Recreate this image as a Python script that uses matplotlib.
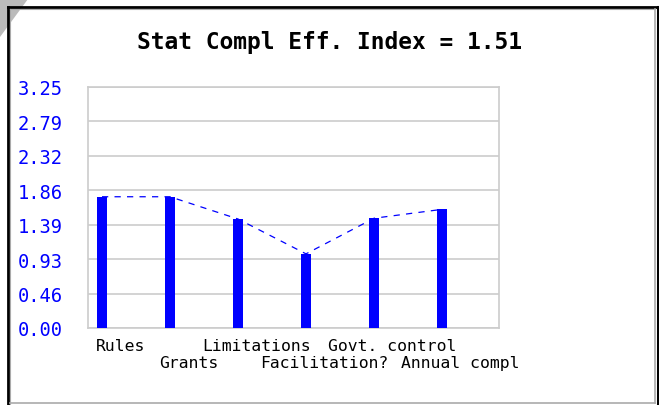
import numpy as np
import matplotlib
matplotlib.use("Agg")
import matplotlib.pyplot as plt
from matplotlib.lines import Line2D
from matplotlib.patches import Polygon

# data
categories = ["Rules", "Grants", "Limitations", "Facilitation?", "Govt. control", "Annual compl"]
values = [1.77, 1.77, 1.47, 1.00, 1.48, 1.60]
ymax = 3.25
title = "Stat Compl Eff. Index = 1.51"

W, H = 659, 406
BLUE = "#0000ff"
GRID = "#cccccc"


def fx(px):
    return px / W


def fy(py):
    return 1 - py / H


def main():
    fig = plt.figure(figsize=(W / 100, H / 100), dpi=100)
    fig.patch.set_facecolor("white")

    # folded corner (under the frame lines)
    fig.add_artist(Polygon([[0, 1], [fx(28), 1], [0, fy(38)]], closed=True,
                           facecolor="#bbbbbb", edgecolor="none",
                           transform=fig.transFigure, zorder=1))
    # frame around the whole panel
    for (x0, y0, x1, y1, c, lw) in [
        (8, 8, 8, H, "black", 2.0),
        (8, 8, 658, 8, "black", 2.0),
        (657.5, 8, 657.5, H, "black", 2.2),
        (10, 10, 10, H, "#aaaaaa", 0.8),
        (10, 10, 655, 10, "#aaaaaa", 0.8),
        (655, 10, 655, 404, "#aaaaaa", 1.2),
        (10, 404, 655, 404, "#aaaaaa", 1.2),
    ]:
        fig.add_artist(Line2D([fx(x0), fx(x1)], [fy(y0), fy(y1)], color=c,
                              lw=lw, transform=fig.transFigure, zorder=2))

    ax = fig.add_axes([fx(88), fy(329), fx(499) - fx(88), (329 - 88) / H])
    x = np.arange(len(categories))
    ax.bar(x, values, width=0.15, color=BLUE, zorder=3)
    ax.plot(x, values, color=BLUE, lw=0.9, ls=(0, (5, 5)), zorder=2)

    ax.set_xlim(-14 / 68, (499 - 102) / 68)
    ax.set_ylim(0, ymax)
    yt = np.arange(8) * ymax / 7
    ax.set_yticks(yt)
    ax.set_yticklabels(["%.2f" % v for v in yt], color=BLUE,
                       family="DejaVu Sans Mono", fontsize=13.5)
    ax.yaxis.grid(True, color=GRID, lw=1.2, zorder=0)
    ax.tick_params(axis="y", length=0, pad=18)

    # staggered category labels, two rows
    ax.set_xticks([])
    for i, c in enumerate(categories):
        ax.annotate(c, xy=(x[i] + 0.27, 0), xycoords=("data", "axes fraction"),
                    xytext=(0, -12.5 if i % 2 == 0 else -24.5),
                    textcoords="offset points", ha="center", va="center",
                    family="DejaVu Sans Mono", fontsize=11.8)

    for s in ax.spines.values():
        s.set_color(GRID)
        s.set_linewidth(1.2)

    fig.text(0.5, fy(42), title, ha="center", va="center",
             family="DejaVu Sans Mono", fontweight="bold", fontsize=16.5)

    fig.savefig("out.png", dpi=100)


main()
